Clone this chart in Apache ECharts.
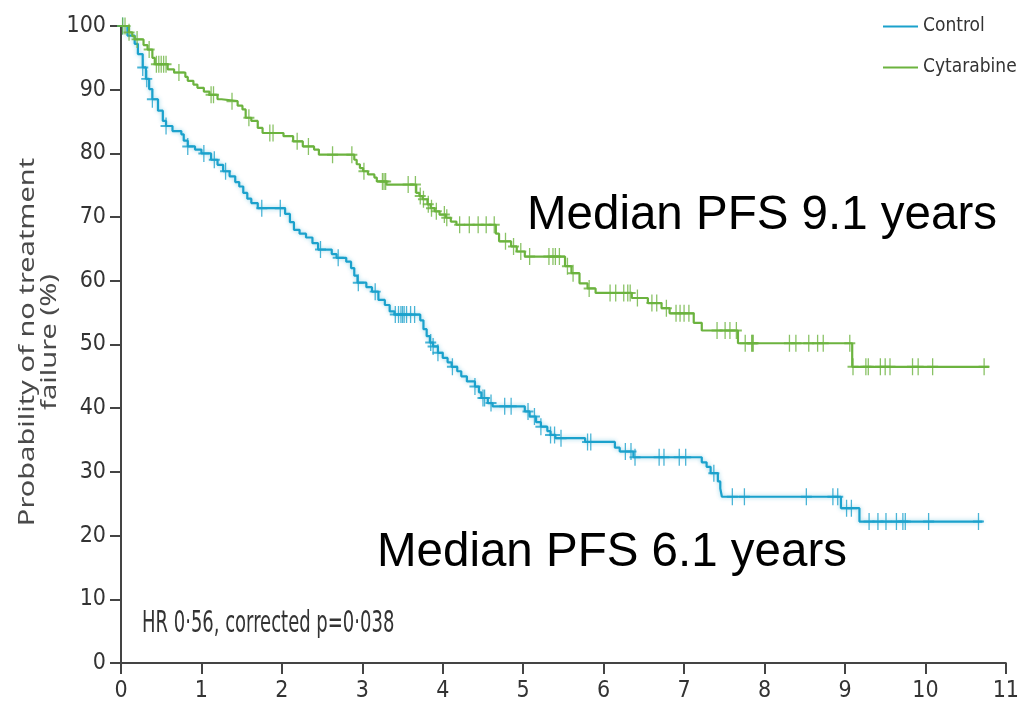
<!DOCTYPE html>
<html>
<head>
<meta charset="utf-8">
<title>Probability of no treatment failure</title>
<script src="https://cdn.jsdelivr.net/npm/echarts@6/dist/echarts.min.js"></script>
<style>
  html, body { margin: 0; padding: 0; background: #fff; }
  #chart { width: 1022px; height: 710px; }
</style>
</head>
<body>
<div id="chart"></div>
<script>
// Kaplan-Meier steps: at controlTimes[i] the curve drops to controlSurv[i]
var controlTimes = [0, 0.08, 0.17, 0.21, 0.27, 0.31, 0.35, 0.39, 0.46, 0.52, 0.56, 0.64, 0.75, 0.78, 0.83, 0.92, 1.0, 1.12, 1.2, 1.27,
  1.35, 1.42, 1.47, 1.52, 1.57, 1.62, 1.70, 2.04, 2.10, 2.15, 2.22, 2.30, 2.38, 2.45, 2.62, 2.68, 2.80, 2.86, 2.90, 2.94,
  3.05, 3.12, 3.20, 3.28, 3.34, 3.40, 3.72, 3.76, 3.80, 3.84, 3.88, 3.94, 4.00, 4.06, 4.11, 4.18, 4.23, 4.30, 4.40, 4.45,
  4.48, 4.56, 4.62, 5.02, 5.08, 5.16, 5.22, 5.30, 5.34, 5.40, 5.77, 6.14, 6.20, 6.37, 7.22, 7.28, 7.33, 7.42, 7.45, 7.47,
  8.95, 9.18, 10.71];
var controlSurv = [100, 98.5, 97.2, 95.6, 93.5, 91.7, 90.1, 88.5, 86.7, 85.1, 84.3, 83.5, 83.0, 82.0, 81.1, 80.6, 80.0, 79.0, 78.2, 77.2,
  76.4, 75.5, 74.8, 73.8, 72.9, 72.2, 71.4, 70.5, 69.2, 68.0, 67.4, 66.8, 65.9, 64.9, 64.2, 63.6, 63.0, 62.0, 60.8, 59.7,
  59.0, 58.3, 57.0, 56.2, 55.2, 54.7, 53.8, 52.4, 51.3, 50.3, 49.7, 48.7, 47.9, 47.2, 46.5, 45.8, 45.0, 44.2, 43.4, 42.5,
  41.6, 40.8, 40.3, 39.5, 38.7, 37.8, 37.1, 36.4, 35.8, 35.3, 34.7, 33.8, 33.2, 32.3, 31.5, 30.8, 29.8, 28.5, 27.4, 26.1,
  24.3, 22.2, 22.2];
var controlCensor = [0.02, 0.27, 0.32, 0.39, 0.56, 0.83, 1.03, 1.16, 1.30, 1.75, 1.98, 2.48, 2.70, 2.95, 3.16, 3.41, 3.45, 3.48, 3.50,
  3.52, 3.55, 3.60, 3.65, 3.85, 3.88, 3.94, 4.12, 4.40, 4.50, 4.52, 4.60, 4.77, 4.85, 5.06, 5.14, 5.22, 5.34, 5.39, 5.47,
  5.80, 5.84, 6.27, 6.34, 6.39, 6.69, 6.75, 6.94, 7.02, 7.37, 7.60, 7.75, 8.52, 8.85, 8.91, 9.02, 9.08, 9.30, 9.41, 9.51,
  9.64, 9.72, 9.75, 10.04, 10.66];

var cytTimes = [0, 0.10, 0.14, 0.17, 0.28, 0.33, 0.39, 0.42, 0.58, 0.66, 0.80, 0.83, 0.90, 0.95, 1.03, 1.10, 1.20, 1.25, 1.45, 1.51,
  1.55, 1.62, 1.70, 1.76, 2.02, 2.14, 2.26, 2.40, 2.46, 2.90, 2.93, 2.97, 3.01, 3.07, 3.15, 3.18, 3.30, 3.67, 3.71, 3.75,
  3.81, 3.85, 3.90, 3.96, 4.04, 4.10, 4.17, 4.66, 4.70, 4.85, 4.92, 5.02, 5.52, 5.60, 5.70, 5.80, 5.90, 6.35, 6.55, 6.72,
  6.82, 7.12, 7.22, 7.67, 9.09, 10.79];
var cytSurv = [100, 99.0, 98.4, 97.9, 97.0, 96.3, 95.0, 94.0, 93.2, 92.7, 92.0, 91.4, 90.8, 90.3, 89.7, 89.2, 88.5, 88.2, 87.5, 86.9,
  85.6, 85.1, 84.0, 83.2, 82.7, 81.9, 81.1, 80.6, 79.8, 79.0, 78.3, 77.7, 77.2, 76.7, 76.2, 75.6, 75.1, 73.8, 73.3, 72.8,
  72.0, 71.4, 70.9, 70.4, 69.9, 69.3, 68.8, 67.4, 66.2, 65.4, 64.6, 63.8, 62.3, 61.2, 59.6, 58.8, 58.1, 57.3, 56.5, 55.7,
  54.9, 53.4, 52.2, 50.2, 46.5, 46.5];
var cytCensor = [0.02, 0.05, 0.10, 0.20, 0.35, 0.44, 0.47, 0.50, 0.53, 0.56, 0.72, 1.12, 1.15, 1.38, 1.59, 1.85, 1.89, 2.19, 2.33,
  2.63, 2.87, 3.02, 3.25, 3.27, 3.29, 3.57, 3.66, 3.72, 3.76, 3.82, 3.86, 3.92, 4.02, 4.05, 4.21, 4.33, 4.44, 4.54, 4.64,
  4.78, 4.88, 4.97, 5.08, 5.32, 5.37, 5.40, 5.45, 5.55, 5.62, 5.82, 6.08, 6.15, 6.25, 6.30, 6.33, 6.42, 6.60, 6.66, 6.78,
  6.90, 6.95, 7.00, 7.06, 7.41, 7.51, 7.57, 7.65, 7.76, 7.84, 7.85, 7.86, 8.31, 8.39, 8.55, 8.66, 8.73, 9.06, 9.10, 9.26,
  9.29, 9.44, 9.50, 9.56, 9.84, 9.91, 10.09, 10.73];

var seriesNames = ['Control', 'Cytarabine'];
var xTicks = [0, 1, 2, 3, 4, 5, 6, 7, 8, 9, 10, 11];
var yTicks = [0, 10, 20, 30, 40, 50, 60, 70, 80, 90, 100];

var blue = '#1ba1cc';
var green = '#6cb33f';
var narrow = '"Liberation Sans Narrow", "DejaVu Sans Condensed", "Liberation Sans", sans-serif';

function pairs(ts, ss) {
  var out = [];
  for (var i = 0; i < ts.length; i++) out.push([ts[i], ss[i]]);
  return out;
}
// censor mark sits on the curve value at its time
function survAt(ts, ss, t) {
  var v = ss[0];
  for (var i = 0; i < ts.length; i++) {
    if (ts[i] <= t) v = ss[i];
  }
  return v;
}
function censorPoints(cs, ts, ss) {
  return cs.map(function (t) { return [t, survAt(ts, ss, t)]; });
}

var plusSymbol = 'path://M0,5L10,5M5,0L5,10';

var myChart = echarts.init(document.getElementById('chart'));
myChart.setOption({
  animation: false,
  backgroundColor: '#fff',
  grid: { left: 121, right: 12, top: 26, bottom: 47 },
  legend: {
    data: seriesNames,
    orient: 'vertical',
    left: 878,
    top: 12,
    itemWidth: 35,
    itemHeight: 2,
    itemGap: 22,
    icon: 'rect',
    textStyle: { fontFamily: narrow, fontSize: 19, color: '#333' }
  },
  xAxis: {
    type: 'value',
    min: 0,
    max: 11,
    interval: 1,
    splitLine: { show: false },
    axisLine: { lineStyle: { color: '#444', width: 2 } },
    axisTick: { length: 11, lineStyle: { color: '#444', width: 2 } },
    axisLabel: {
      margin: 17,
      fontFamily: narrow, fontSize: 23, color: '#333',
      formatter: function (v) { return xTicks.indexOf(v) >= 0 ? String(v) : ''; }
    }
  },
  yAxis: {
    type: 'value',
    min: 0,
    max: 100,
    interval: 10,
    splitLine: { show: false },
    axisLine: { show: true, lineStyle: { color: '#444', width: 2 } },
    axisTick: { show: true, length: 11, lineStyle: { color: '#444', width: 2 } },
    axisLabel: {
      margin: 15,
      fontFamily: narrow, fontSize: 23, color: '#333',
      formatter: function (v) { return yTicks.indexOf(v) >= 0 ? String(v) : ''; }
    }
  },
  graphic: [
    {
      type: 'text', x: 39, y: 342, rotation: Math.PI / 2, scaleX: 1.38,
      style: {
        text: 'Probability of no treatment\nfailure (%)',
        fontFamily: '"Noto Sans", sans-serif', fontSize: 21, lineHeight: 22,
        fill: '#4a4a4a', align: 'center', verticalAlign: 'middle'
      }
    },
    {
      type: 'text', x: 142, y: 624, scaleY: 1.5,
      style: {
        text: 'HR 0·56, corrected p=0·038',
        fontFamily: narrow, fontSize: 20, fill: '#333',
        align: 'left', verticalAlign: 'middle'
      }
    },
    {
      type: 'text', x: 527, y: 216,
      style: {
        text: 'Median PFS 9.1 years',
        fontFamily: '"Liberation Sans", Arial, sans-serif', fontSize: 47.5, fill: '#000',
        align: 'left', verticalAlign: 'middle'
      }
    },
    {
      type: 'text', x: 377, y: 553,
      style: {
        text: 'Median PFS 6.1 years',
        fontFamily: '"Liberation Sans", Arial, sans-serif', fontSize: 47.5, fill: '#000',
        align: 'left', verticalAlign: 'middle'
      }
    }
  ],
  series: [
    {
      name: 'Control',
      type: 'line',
      step: 'end',
      showSymbol: false,
      color: blue,
      lineStyle: { width: 2.2, color: blue, shadowColor: 'rgba(27,161,204,0.45)', shadowBlur: 4 },
      data: pairs(controlTimes, controlSurv),
      z: 2
    },
    {
      name: 'Cytarabine',
      type: 'line',
      step: 'end',
      showSymbol: false,
      color: green,
      lineStyle: { width: 2.2, color: green },
      data: pairs(cytTimes, cytSurv),
      z: 3
    },
    {
      name: 'Control censored',
      type: 'scatter',
      symbol: plusSymbol,
      symbolSize: [11, 17],
      itemStyle: { color: 'none', borderColor: blue, borderWidth: 1.6 },
      data: censorPoints(controlCensor, controlTimes, controlSurv),
      z: 4
    },
    {
      name: 'Cytarabine censored',
      type: 'scatter',
      symbol: plusSymbol,
      symbolSize: [11, 17],
      itemStyle: { color: 'none', borderColor: green, borderWidth: 1.6 },
      data: censorPoints(cytCensor, cytTimes, cytSurv),
      z: 5
    }
  ]
});
</script>
</body>
</html>
